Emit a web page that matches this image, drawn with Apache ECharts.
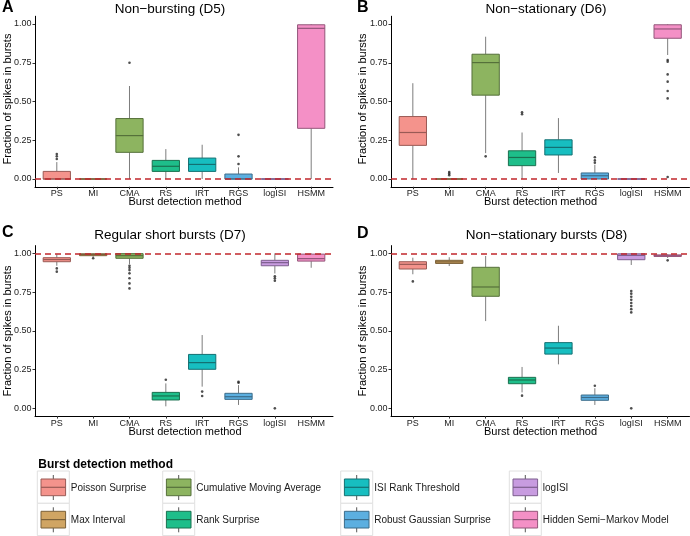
<!DOCTYPE html>
<html>
<head>
<meta charset="utf-8">
<script src="https://cdn.jsdelivr.net/npm/echarts@6/dist/echarts.min.js"></script>
<style>html,body{margin:0;padding:0;background:#fff}#c{width:690px;height:536px}</style>
</head>
<body>
<div id="c"></div>
<script>
// ---------- data ----------
const methods = ['PS', 'MI', 'CMA', 'RS', 'IRT', 'RGS', 'logISI', 'HSMM'];
const methodNames = ['Poisson Surprise', 'Max Interval', 'Cumulative Moving Average', 'Rank Surprise',
  'ISI Rank Threshold', 'Robust Gaussian Surprise', 'logISI', 'Hidden Semi\u2212Markov Model'];
const yTicks = [0, 0.25, 0.5, 0.75, 1];
const xTicks = [0, 1, 2, 3, 4, 5, 6, 7];
const legendTitle = 'Burst detection method';
const xTitle = 'Burst detection method';
const yTitle = 'Fraction of spikes in bursts';
const panelTitles = ['Non\u2212bursting (D5)', 'Non\u2212stationary (D6)', 'Regular short bursts (D7)', 'Non\u2212stationary bursts (D8)'];
const panelLetters = ['A', 'B', 'C', 'D'];
const refLines = [0, 0, 1, 1];

// box stats per method: [lower whisker, Q1, median, Q3, upper whisker]
const d5Stats = [
  [0, 0, 0, 0.049, 0.109],
  [0, 0, 0, 0, 0],
  [0, 0.172, 0.28, 0.39, 0.60],
  [0, 0.049, 0.082, 0.12, 0.193],
  [0, 0.049, 0.094, 0.135, 0.221],
  [0, 0, 0, 0.032, 0.075],
  [0, 0, 0, 0, 0],
  [0, 0.327, 0.972, 0.995, 1.0]
];
const d5Outliers = [[0, 0.129], [0, 0.146], [0, 0.161], [2, 0.75], [5, 0.097], [5, 0.146], [5, 0.285]];

const d6Stats = [
  [0, 0.217, 0.30, 0.403, 0.618],
  [0, 0, 0, 0, 0],
  [0.167, 0.541, 0.751, 0.805, 0.918],
  [0, 0.086, 0.139, 0.182, 0.30],
  [0.039, 0.155, 0.204, 0.253, 0.393],
  [0, 0, 0.021, 0.039, 0.092],
  [0, 0, 0, 0, 0],
  [0.80, 0.908, 0.968, 0.995, 1.0]
];
const d6Outliers = [[1, 0.025], [1, 0.035], [1, 0.045], [2, 0.146], [3, 0.418], [3, 0.43],
  [5, 0.105], [5, 0.12], [5, 0.14],
  [7, 0.768], [7, 0.757], [7, 0.675], [7, 0.628], [7, 0.568], [7, 0.52], [7, 0.013]];

const d7Stats = [
  [0.92, 0.946, 0.96, 0.972, 0.994],
  [0.975, 0.985, 0.993, 0.997, 1.0],
  [0.93, 0.968, 0.985, 0.998, 1.0],
  [0.013, 0.054, 0.08, 0.103, 0.161],
  [0.14, 0.252, 0.295, 0.348, 0.473],
  [0.022, 0.058, 0.075, 0.097, 0.15],
  [0.87, 0.92, 0.94, 0.955, 1.0],
  [0.907, 0.95, 0.966, 0.995, 1.0]
];
const d7Outliers = [[0, 0.903], [0, 0.882], [1, 0.968],
  [2, 0.92], [2, 0.907], [2, 0.892], [2, 0.871], [2, 0.839], [2, 0.806], [2, 0.774],
  [3, 0.185], [4, 0.108], [4, 0.08], [5, 0.165], [5, 0.172],
  [6, 0.852], [6, 0.839], [6, 0.824], [6, 0.0]];

const d8Stats = [
  [0.865, 0.899, 0.929, 0.946, 0.972],
  [0.918, 0.935, 0.945, 0.955, 0.975],
  [0.563, 0.723, 0.783, 0.91, 0.983],
  [0.103, 0.159, 0.183, 0.20, 0.267],
  [0.284, 0.35, 0.389, 0.424, 0.533],
  [0.022, 0.052, 0.07, 0.086, 0.13],
  [0.925, 0.959, 0.987, 0.997, 1.0],
  [0.97, 0.98, 0.985, 0.99, 0.995]
];
const d8Outliers = [[0, 0.819], [3, 0.082], [5, 0.146],
  [6, 0.757], [6, 0.74], [6, 0.72], [6, 0.70], [6, 0.68], [6, 0.66], [6, 0.64], [6, 0.619], [6, 0.0],
  [7, 0.955]];

const allStats = [d5Stats, d6Stats, d7Stats, d8Stats];
const allOutliers = [d5Outliers, d6Outliers, d7Outliers, d8Outliers];

// ---------- styles ----------
const fills = ['#F4938C', '#D0A563', '#8DB460', '#1EBE8A', '#17BEC0', '#5CAFE0', '#C89CE0', '#F490C6'];
const borders = ['#9A5A55', '#7A6038', '#55703A', '#19704F', '#137072', '#3B6C8A', '#7D5E8E', '#93567A'];
const FONT = '"Liberation Sans", Arial, Helvetica, sans-serif';
const grids = [
  {left: 35, top: 16.25, width: 298, height: 170.5},
  {left: 391, top: 16.25, width: 298.5, height: 170.5},
  {left: 35, top: 245.6, width: 298, height: 170.5},
  {left: 391, top: 245.6, width: 298.5, height: 170.5}
];
const titlePos = [[170, 9.5], [546, 9.5], [170, 235.5], [546.5, 235]];
const letterPos = [[2, 8], [357, 8], [2, 232.5], [357, 234]];
const yTitlePos = [[7.5, 99], [362.5, 99], [7.5, 331], [362.5, 331]];
const xTitlePos = [[185, 201.5], [540.5, 201.5], [185, 431.5], [540.5, 431.5]];

function renderBox(params, api) {
  const x = api.value(0);
  const lo = api.coord([x, api.value(1)]);
  const q1 = api.coord([x, api.value(2)]);
  const md = api.coord([x, api.value(3)]);
  const q3 = api.coord([x, api.value(4)]);
  const hi = api.coord([x, api.value(5)]);
  const ci = api.value(6);
  const w = api.size([0.75, 0])[0];
  const cx = lo[0];
  return {
    type: 'group',
    children: [
      {type: 'line', shape: {x1: cx, y1: hi[1], x2: cx, y2: q3[1]}, style: {stroke: '#7d7d7d', lineWidth: 1}},
      {type: 'line', shape: {x1: cx, y1: q1[1], x2: cx, y2: lo[1]}, style: {stroke: '#7d7d7d', lineWidth: 1}},
      {type: 'rect', shape: {x: cx - w / 2, y: q3[1], width: w, height: q1[1] - q3[1]},
        style: {fill: fills[ci], stroke: borders[ci], lineWidth: 1}},
      {type: 'line', shape: {x1: cx - w / 2, y1: md[1], x2: cx + w / 2, y2: md[1]},
        style: {stroke: borders[ci], lineWidth: 1.2}}
    ]
  };
}

const xAxes = [], yAxes = [], series = [], graphics = [];
grids.forEach((g, p) => {
  xAxes.push({
    type: 'value', gridIndex: p, min: -0.6, max: 7.6,
    splitLine: {show: false},
    axisLine: {show: true, onZero: false, lineStyle: {color: '#000', width: 1}},
    axisTick: {show: true, length: 2.5, customValues: xTicks, lineStyle: {color: '#333'}},
    axisLabel: {
      customValues: xTicks, margin: 2.5, color: '#222', fontSize: 9, fontFamily: FONT,
      formatter: v => (Number.isInteger(v) && methods[v]) ? methods[v] : ''
    }
  });
  yAxes.push({
    type: 'value', gridIndex: p, min: -0.05, max: 1.05,
    splitLine: {show: false},
    axisLine: {show: true, onZero: false, lineStyle: {color: '#000', width: 1}},
    axisTick: {show: true, length: 2.5, customValues: yTicks, lineStyle: {color: '#333'}},
    axisLabel: {
      customValues: yTicks, margin: 3.5, color: '#222', fontSize: 9, fontFamily: FONT,
      formatter: v => (yTicks.indexOf(v) >= 0) ? v.toFixed(2) : ''
    }
  });
  const boxData = allStats[p].map((s, i) => [i, s[0], s[1], s[2], s[3], s[4], i]);
  series.push({
    type: 'custom', xAxisIndex: p, yAxisIndex: p, renderItem: renderBox,
    encode: {x: 0, y: [1, 2, 3, 4, 5]}, data: boxData, clip: false, z: 2, silent: true
  });
  series.push({
    type: 'scatter', xAxisIndex: p, yAxisIndex: p, data: allOutliers[p],
    symbolSize: 2.6, itemStyle: {color: '#222'}, z: 3, silent: true,
    markLine: {
      silent: true, symbol: 'none', label: {show: false}, z: 5,
      lineStyle: {color: '#C1272D', type: [6, 4], width: 1.5},
      data: [{yAxis: refLines[p]}]
    }
  });
  graphics.push({type: 'text', x: titlePos[p][0], y: titlePos[p][1],
    style: {text: panelTitles[p], font: '13.5px ' + FONT, fill: '#000', textAlign: 'center', textVerticalAlign: 'middle'}});
  graphics.push({type: 'text', x: letterPos[p][0], y: letterPos[p][1],
    style: {text: panelLetters[p], font: 'bold 16px ' + FONT, fill: '#000', textAlign: 'left', textVerticalAlign: 'middle'}});
  graphics.push({type: 'text', x: yTitlePos[p][0], y: yTitlePos[p][1], rotation: Math.PI / 2,
    style: {text: yTitle, font: '11px ' + FONT, fill: '#000', textAlign: 'center', textVerticalAlign: 'middle'}});
  graphics.push({type: 'text', x: xTitlePos[p][0], y: xTitlePos[p][1],
    style: {text: xTitle, font: '11px ' + FONT, fill: '#000', textAlign: 'center', textVerticalAlign: 'middle'}});
});

// ---------- legend (drawn as graphic) ----------
const legCols = [37.3, 162.7, 340.7, 509.3];
const legRows = [471, 503.3];
graphics.push({type: 'text', x: 38.3, y: 465,
  style: {text: legendTitle, font: 'bold 12px ' + FONT, fill: '#000', textAlign: 'left', textVerticalAlign: 'middle'}});
methodNames.forEach((name, i) => {
  const kx = legCols[Math.floor(i / 2)], ky = legRows[i % 2];
  const cx = kx + 16;
  graphics.push({type: 'group', children: [
    {type: 'rect', shape: {x: kx, y: ky, width: 32, height: 32.3}, style: {fill: '#fff', stroke: '#e0e0e0', lineWidth: 1}},
    {type: 'line', shape: {x1: cx, y1: ky + 4, x2: cx, y2: ky + 8}, style: {stroke: '#555', lineWidth: 1}},
    {type: 'line', shape: {x1: cx, y1: ky + 24.7, x2: cx, y2: ky + 29}, style: {stroke: '#555', lineWidth: 1}},
    {type: 'rect', shape: {x: kx + 3.7, y: ky + 8, width: 24.6, height: 16.7}, style: {fill: fills[i], stroke: borders[i], lineWidth: 1}},
    {type: 'line', shape: {x1: kx + 3.7, y1: ky + 16.3, x2: kx + 28.3, y2: ky + 16.3}, style: {stroke: borders[i], lineWidth: 1.2}},
    {type: 'text', x: kx + 33.5, y: ky + 17, style: {text: name, font: '10px ' + FONT, fill: '#1a1a1a', textAlign: 'left', textVerticalAlign: 'middle'}}
  ]});
});

const chart = echarts.init(document.getElementById('c'), null, {renderer: 'canvas'});
chart.setOption({
  animation: false,
  backgroundColor: '#fff',
  grid: grids.map(g => Object.assign({containLabel: false}, g)),
  xAxis: xAxes,
  yAxis: yAxes,
  series: series,
  graphic: graphics
});
</script>
</body>
</html>
